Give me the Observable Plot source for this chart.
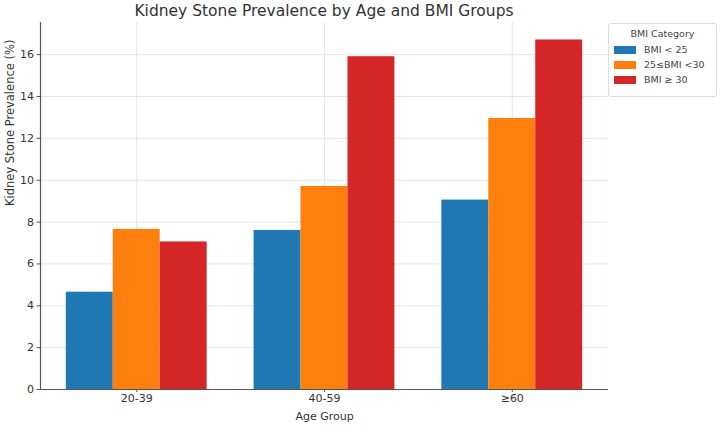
<!DOCTYPE html>
<html>
<head>
<meta charset="utf-8">
<script src="https://cdn.jsdelivr.net/npm/d3@7"></script>
<script src="https://cdn.jsdelivr.net/npm/@observablehq/plot@0.6"></script>
<style>
  body { margin: 0; background: #fff; }
  #wrap { position: relative; width: 720px; height: 425px; font-family: "DejaVu Sans", sans-serif; }
  #title { position: absolute; left: 40px; width: 568px; top: 2px; text-align: center; font-size: 15.5px; color: #333; }
  #legend { position: absolute; left: 608px; top: 23px; width: 109px; height: 74px; border: 1px solid #ddd; border-radius: 3px; background: #fff; font-size: 9.5px; color: #444; box-sizing: border-box; }
  #legend .lt { text-align: center; margin-top: 4px; margin-bottom: 3px; }
  #legend .row { display: flex; align-items: center; height: 15px; padding-left: 5px; }
  #legend .sw { width: 22px; height: 8px; margin-right: 8px; }
</style>
</head>
<body>
<div id="wrap">
  <div id="chart"></div>
  <div id="title">Kidney Stone Prevalence by Age and BMI Groups</div>
  <div id="legend"></div>
</div>
<script>
const ageGroups = ["20-39", "40-59", "≥60"];
const bmiCategories = ["BMI < 25", "25≤BMI <30", "BMI ≥ 30"];
const bmiColors = ["#1f77b4", "#ff7f0e", "#d62728"];
const bmiUnder25 = [4.65, 7.6, 9.05];
const bmi25to30 = [7.65, 9.7, 12.95];
const bmiOver30 = [7.05, 15.9, 16.7];
const yTicks = [0, 2, 4, 6, 8, 10, 12, 14, 16];

const series = [bmiUnder25, bmi25to30, bmiOver30];
const barWidth = 0.25;
const data = [];
ageGroups.forEach((age, i) => {
  bmiCategories.forEach((bmi, j) => {
    const center = i + (j - 1) * barWidth;
    data.push({age, bmi, x1: center - barWidth / 2, x2: center + barWidth / 2, value: series[j][i]});
  });
});
const xMin = -0.375 - 0.05 * 2.75;
const xMax = 2.375 + 0.05 * 2.75;
const yMax = d3.max(data, d => d.value) * 1.05;

const chart = Plot.plot({
  width: 720,
  height: 425,
  marginLeft: 40,
  marginRight: 112,
  marginTop: 22,
  marginBottom: 36,
  style: { fontFamily: "DejaVu Sans, sans-serif", fontSize: "11px", color: "#333", background: "#fff" },
  x: { domain: [xMin, xMax], ticks: [0, 1, 2], tickFormat: d => ageGroups[d], label: null },
  y: { domain: [0, yMax], ticks: yTicks, label: null },
  color: { domain: bmiCategories, range: bmiColors },
  marks: [
    Plot.gridY(yTicks, { stroke: "#e6e6e6", strokeOpacity: 1 }),
    Plot.gridX([0, 1, 2], { stroke: "#e6e6e6", strokeOpacity: 1 }),
    Plot.rectY(data, { x1: "x1", x2: "x2", y1: 0, y2: "value", fill: "bmi" }),
    Plot.axisY(yTicks, { tickSize: 3.5, tickPadding: 3, fontSize: 11, fill: "#333", stroke: "#555" }),
    Plot.axisX([0, 1, 2], { tickSize: 3, tickPadding: 1.5, fontSize: 11, fill: "#333", stroke: "#555", tickFormat: d => ageGroups[d] }),
    Plot.ruleX([xMin], { stroke: "#555", strokeWidth: 1.2 }),
    Plot.ruleY([0], { stroke: "#555", strokeWidth: 1.2 }),
    Plot.text(["Age Group"], { frameAnchor: "bottom", dy: 30, fontSize: 11, fill: "#333" }),
    Plot.text(["Kidney Stone Prevalence (%)"], { frameAnchor: "left", dx: -30, rotate: -90, fontSize: 11.5, fill: "#333" })
  ]
});
document.getElementById("chart").appendChild(chart);

const legend = document.getElementById("legend");
legend.innerHTML = '<div class="lt">BMI Category</div>' +
  bmiCategories.map((c, i) => `<div class="row"><div class="sw" style="background:${bmiColors[i]}"></div>${c}</div>`).join("");
</script>
</body>
</html>
